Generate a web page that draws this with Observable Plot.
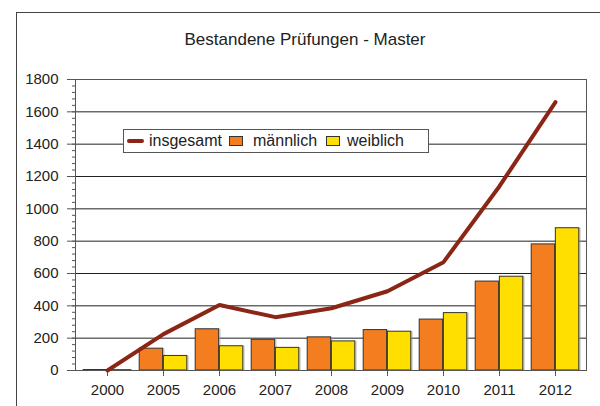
<!DOCTYPE html>
<html>
<head>
<meta charset="utf-8">
<script src="https://cdn.jsdelivr.net/npm/d3@7"></script>
<script src="https://cdn.jsdelivr.net/npm/@observablehq/plot@0.6"></script>
<style>
  html, body { margin: 0; padding: 0; background: #fff; }
  #wrap { position: relative; width: 600px; height: 406px; overflow: hidden; font-family: "Liberation Sans", Arial, sans-serif; }
  #border { position: absolute; left: 16px; top: 12px; width: 620px; height: 420px; border: 1px solid #444; box-sizing: border-box; }
  #title { position: absolute; left: 0; width: 610px; top: 30px; text-align: center; font-size: 17px; line-height: 20px; color: #222; }
  #chart { position: absolute; left: 0; top: 0; }
  #legend { position: absolute; left: 123px; top: 129px; width: 306px; height: 24px; background: #fff; border: 1px solid #555; box-sizing: border-box; font-size: 16px; color: #222; }
  #legend span { position: absolute; }
</style>
</head>
<body>
<div id="wrap">
  <div id="border"></div>
  <div id="chart"></div>
  <div id="title">Bestandene Prüfungen - Master</div>
  <div id="legend"></div>
</div>
<script>
const years = ["2000", "2005", "2006", "2007", "2008", "2009", "2010", "2011", "2012"];
const maennlich = [3, 135, 255, 190, 205, 250, 315, 550, 780];
const weiblich = [2, 90, 150, 140, 180, 240, 355, 580, 880];
const insgesamt = [0, 225, 405, 330, 385, 490, 670, 1140, 1660];
const yTicks = [0, 200, 400, 600, 800, 1000, 1200, 1400, 1600, 1800];
const yMinor = d3.range(0, 1801, 40);
const seriesNames = ["insgesamt", "männlich", "weiblich"];
const colors = { insgesamt: "#8B2516", "männlich": "#F47D20", weiblich: "#FFDF00" };

const male = years.map((y, i) => ({ year: y, value: maennlich[i] }));
const female = years.map((y, i) => ({ year: y, value: weiblich[i] }));
const total = years.map((y, i) => ({ year: y, value: insgesamt[i] }));

const bw = 56.75, gap = 4.2, barW = 24.2;
const chart = Plot.plot({
  width: 600,
  height: 406,
  marginLeft: 75,
  marginRight: 14,
  marginTop: 79,
  marginBottom: 36,
  style: { fontFamily: "'Liberation Sans', Arial, sans-serif", fontSize: "15px", color: "#222", background: "transparent", overflow: "visible" },
  x: { type: "band", domain: years, padding: 0, label: null },
  y: { domain: [0, 1800], label: null },
  marks: [
    Plot.ruleY(yTicks, { stroke: "#222", strokeWidth: 1 }),
    Plot.axisY(yMinor, { tickSize: 3, text: null, stroke: "#555", label: null }),
    Plot.axisY(yTicks, { tickSize: 8, tickPadding: 9, stroke: "#555", fontSize: 15, tickFormat: "d", label: null }),
    Plot.axisX({ tickSize: 6, tickPadding: 8, stroke: "#555", fontSize: 15, label: null }),
    Plot.barY(male, { x: "year", y: "value", fill: "#aaa", fillOpacity: 0.5, dx: 2, insetLeft: gap, insetRight: bw - gap - barW }),
    Plot.barY(female, { x: "year", y: "value", fill: "#aaa", fillOpacity: 0.5, dx: 2, insetLeft: bw - gap - barW, insetRight: gap }),
    Plot.barY(male, { x: "year", y: "value", fill: colors["männlich"], stroke: "#333", strokeWidth: 1, insetLeft: gap, insetRight: bw - gap - barW }),
    Plot.barY(female, { x: "year", y: "value", fill: colors.weiblich, stroke: "#333", strokeWidth: 1, insetLeft: bw - gap - barW, insetRight: gap }),
    Plot.frame({ stroke: "#555" }),
    Plot.line(total, { x: "year", y: "value", stroke: colors.insgesamt, strokeWidth: 4, strokeLinecap: "round", strokeLinejoin: "round" })
  ]
});
document.getElementById("chart").appendChild(chart);

const legend = document.getElementById("legend");
const items = [
  { name: seriesNames[0], type: "line", sx: 3, tx: 25 },
  { name: seriesNames[1], type: "box", sx: 105, tx: 129 },
  { name: seriesNames[2], type: "box", sx: 202, tx: 223 }
];
items.forEach(it => {
  const sw = document.createElement("span");
  if (it.type === "line") {
    Object.assign(sw.style, { left: it.sx + "px", top: "9px", width: "17px", height: "4px", background: colors[it.name], borderRadius: "2px" });
  } else {
    Object.assign(sw.style, { left: it.sx + "px", top: "6px", width: "14px", height: "10px", background: colors[it.name], border: "1px solid #333", boxSizing: "border-box" });
  }
  legend.appendChild(sw);
  const t = document.createElement("span");
  t.textContent = it.name;
  Object.assign(t.style, { left: it.tx + "px", top: "2px", lineHeight: "18px" });
  legend.appendChild(t);
});
</script>
</body>
</html>
